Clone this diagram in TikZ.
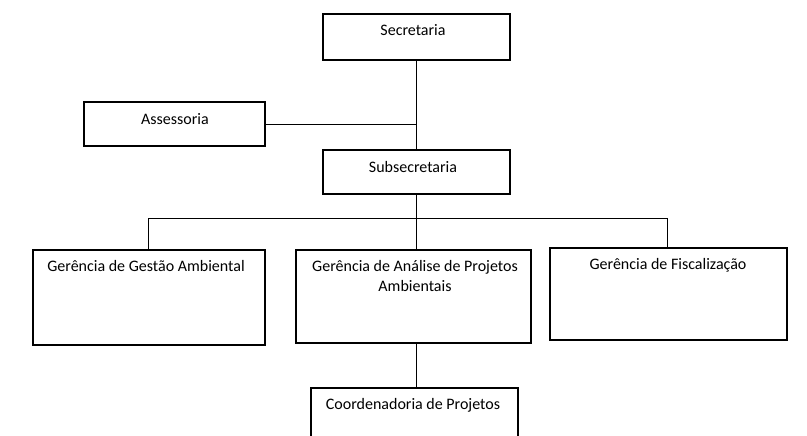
\documentclass[tikz,border=0pt]{standalone}
\usepackage{fontspec}
\setmainfont{Carlito}
\begin{document}
\begin{tikzpicture}[x=1pt,y=-1pt,
  box/.style={draw,line width=1.1pt,rectangle,inner sep=0},
  lbl/.style={font=\fontsize{16}{20}\selectfont,align=center,anchor=north},
  ln/.style={line width=0.8pt}]
\useasboundingbox[fill=white] (0,0) rectangle (807,436);
\node[box,minimum width=187,minimum height=46] (sec) at (416.5,37) {};
\node[box,minimum width=181,minimum height=44] (ass) at (174.5,124) {};
\node[box,minimum width=187,minimum height=44] (sub) at (416.5,172) {};
\node[box,minimum width=232,minimum height=95] (g1) at (149,297.5) {};
\node[box,minimum width=235,minimum height=93] (g2) at (413.5,296.5) {};
\node[box,minimum width=237,minimum height=92] (g3) at (668.5,294) {};
\node[box,minimum width=207,minimum height=56] (co) at (414.5,416) {};
\node[lbl] (tsec) at (413,21) {Secretaria};
\node[lbl] (tass) at (175,110) {Assessoria};
\node[lbl] (tsub) at (413,158) {Subsecretaria};
\node[lbl] (tg1) at (146,257) {Gerência de Gestão Ambiental};
\node[lbl] (tg2) at (415,257) {Gerência de Análise de Projetos\\Ambientais};
\node[lbl] (tg3) at (668,255) {Gerência de Fiscalização};
\node[lbl] (tco) at (413,395) {Coordenadoria de Projetos};
\coordinate (ja) at (416.5,124);
\coordinate (bl) at (148,218);
\coordinate (bm) at (416.5,218);
\coordinate (br) at (667,218);
\draw[ln] (sec.south) -- (sub.north);
\draw[ln] (ass.east) -- (ja);
\draw[ln] (sub.south) -- (bm);
\draw[ln] (bl) -- (br);
\draw[ln] (bl) -- (bl|-g1.north);
\draw[ln] (bm) -- (bm|-g2.north);
\draw[ln] (br) -- (br|-g3.north);
\draw[ln] (g2.south-|bm) -- (co.north-|bm);
\end{tikzpicture}
\end{document}
